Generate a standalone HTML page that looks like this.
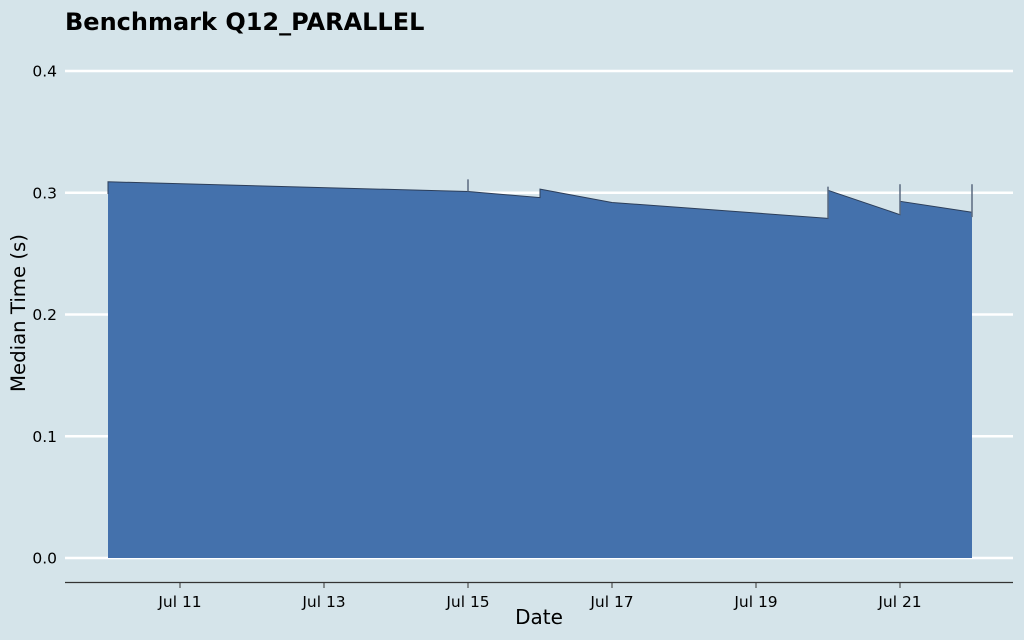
<!DOCTYPE html>
<html><head><meta charset="utf-8"><style>
body{margin:0;background:#d5e4ea;}
svg{display:block;font-family:"DejaVu Sans","Liberation Sans",sans-serif;}
</style></head><body>
<svg id="c" width="1024" height="640">
<rect width="1024" height="640" fill="#d5e4ea"/>
<text x="65" y="30" font-size="24" font-weight="bold" fill="#000">Benchmark Q12_PARALLEL</text>
<g id="grid"></g>
<g id="area"></g>
<g id="ticks"></g>
<line x1="65" x2="1013" y1="582.5" y2="582.5" stroke="#333" stroke-width="1.2"/>
<g id="xaxis"></g>
<text x="539" y="624" font-size="20" text-anchor="middle">Date</text>
<text transform="translate(25,313) rotate(-90)" font-size="19.7" text-anchor="middle">Median Time (s)</text>
</svg>
<script>
const yTicks=[0,0.1,0.2,0.3,0.4];
const yTickLabels=["0.0","0.1","0.2","0.3","0.4"];
const xTicks=[11,13,15,17,19,21];
const xTickLabels=["Jul 11","Jul 13","Jul 15","Jul 17","Jul 19","Jul 21"];
// line points (day of July, median seconds); repeated days form vertical jumps
const pointDays=[10,10,15,16,16,17,20,20,21,21,22];
const pointVals=[0.299,0.309,0.301,0.296,0.303,0.292,0.279,0.302,0.282,0.293,0.284];
// error ticks
const errDays=[15,20,21,22];
const errLo=[0.301,0.279,0.282,0.280];
const errHi=[0.311,0.305,0.307,0.307];
const NS="http://www.w3.org/2000/svg";
const X=d=>108+(d-10)*72;
const Y=v=>558-v*1217.5;
function mk(tag,attrs,parent){const e=document.createElementNS(NS,tag);for(const k in attrs)e.setAttribute(k,attrs[k]);document.getElementById(parent).appendChild(e);return e;}
yTicks.forEach((t,i)=>{
  const l=mk('line',{x1:65,x2:1013,y1:Y(t),y2:Y(t),stroke:'#fff','stroke-width':2.5},'grid');
  
  
  const tx=mk('text',{x:57,y:Y(t)+5.5,'font-size':15.5,'text-anchor':'end'},'grid');
  tx.textContent=yTickLabels[i];
  
  
});
let d='M'+X(pointDays[0])+','+Y(0);
pointDays.forEach((dd,i)=>{d+=' L'+X(dd)+','+Y(pointVals[i]);});
d+=' L'+X(pointDays[pointDays.length-1])+','+Y(0)+' Z';
const a=mk('path',{d:d,fill:'#4471ac'},'area');


let ld='';
pointDays.forEach((dd,i)=>{ld+=(i?' L':'M')+X(dd)+','+Y(pointVals[i]);});
const ln=mk('path',{d:ld,fill:'none',stroke:'#2c3e5a','stroke-width':1},'area');


errDays.forEach((dd,i)=>{
  const e=mk('line',{x1:X(dd),x2:X(dd),y1:Y(errLo[i]),y2:Y(errHi[i]),stroke:'#5a6a80','stroke-width':1.5},'ticks');
  
  
});
xTicks.forEach((t,i)=>{
  const l=mk('line',{x1:X(t),x2:X(t),y1:582,y2:588,stroke:'#333'},'xaxis');
  
  
  const tx=mk('text',{x:X(t),y:607,'font-size':15.5,'text-anchor':'middle'},'xaxis');
  tx.textContent=xTickLabels[i];
  
  
});
</script>
</body></html>
